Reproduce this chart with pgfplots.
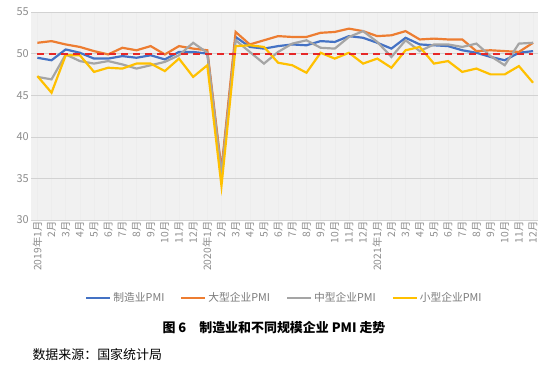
\documentclass[border=0pt]{standalone}
\usepackage{fontspec}
\setmainfont{Noto Sans CJK SC}
\usepackage{pgfplots}
\usepackage{pgfplotstable}
\pgfplotsset{compat=1.18}
\definecolor{cblue}{HTML}{4472C4}
\definecolor{corange}{HTML}{ED7D31}
\definecolor{cgray}{HTML}{A5A5A5}
\definecolor{cgold}{HTML}{FFC000}
\definecolor{cred}{RGB}{230,40,40}
\definecolor{ticktext}{HTML}{8C8C8C}
\definecolor{legtext}{HTML}{7A7A7A}
\definecolor{plotbg}{HTML}{F1F1F1}
\pgfplotstableread{
x mfg large medium small
0 49.5 51.3 47.2 47.3
1 49.2 51.5 46.9 45.3
2 50.5 51.1 49.9 49.8
3 50.1 50.8 49.1 49.8
4 49.4 50.3 48.8 47.8
5 49.4 49.9 49.1 48.3
6 49.7 50.7 48.7 48.2
7 49.5 50.4 48.2 48.8
8 49.8 50.9 48.6 48.8
9 49.3 49.9 49.0 47.9
10 50.2 50.9 49.8 49.4
11 50.2 50.6 51.3 47.2
12 50.0 50.4 50.1 48.6
13 35.7 36.1 35.5 34.1
14 52.0 52.6 51.6 50.9
15 50.8 51.1 50.2 51.0
16 50.6 51.6 48.8 50.8
17 50.9 52.1 50.2 48.9
18 51.1 52.0 51.2 48.6
19 51.0 52.0 51.6 47.7
20 51.5 52.5 50.7 50.1
21 51.4 52.6 50.6 49.4
22 52.1 53.0 52.0 50.1
23 51.9 52.7 52.7 48.8
24 51.3 52.1 51.4 49.4
25 50.6 52.2 49.6 48.3
26 51.9 52.7 51.6 50.4
27 51.1 51.7 50.3 50.8
28 51.0 51.8 51.1 48.8
29 50.9 51.7 51.1 49.1
30 50.4 51.7 50.8 47.8
31 50.1 50.3 51.2 48.2
32 49.6 50.4 49.7 47.5
33 49.2 50.3 48.6 47.5
34 50.1 50.2 51.2 48.5
35 50.3 51.3 51.3 46.5
}\pmidata
\begin{document}
\begin{tikzpicture}
\path (0,0) rectangle (548bp,377bp);
\begin{axis}[
  at={(31bp,157bp)}, anchor=south west,
  scale only axis, width=507bp, height=208bp,
  xmin=-0.45, xmax=35.35, ymin=30, ymax=55,
  ytick={30,35,...,55},
  xtick={0,...,35},
  xticklabels={2019年1月,2月,3月,4月,5月,6月,7月,8月,9月,10月,11月,12月,2020年1月,2月,3月,4月,5月,6月,7月,8月,9月,10月,11月,12月,2021年1月,2月,3月,4月,5月,6月,7月,8月,9月,10月,11月,12月},
  x tick label style={rotate=90, anchor=east, font=\fontsize{10.3}{10.3}\selectfont, text=ticktext, inner sep=1.5bp},
  y tick label style={font=\fontsize{11}{11}\selectfont, text=ticktext, inner sep=2bp},
  /pgf/number format/assume math mode=true,
  tick style={draw=none},
  ymajorgrids, xmajorgrids,
  y grid style={gray!35},
  x grid style={gray!14},
  axis line style={draw=none},
  axis background/.style={fill=plotbg},
  legend columns=4,
  legend style={at={(0.5,-0.375)}, anchor=center, draw=none, fill=none,
    font=\fontsize{10.8}{10.8}\selectfont, text=legtext,
    /tikz/every even column/.append style={column sep=14bp}},
  legend image code/.code={\draw[#1, line width=2pt] (0bp,0bp) -- (24bp,0bp);},
]
\addplot[cblue, line width=2.2pt] table[x=x, y=mfg] {\pmidata};
\addlegendentry{制造业PMI}
\addplot[corange, line width=2.2pt] table[x=x, y=large] {\pmidata};
\addlegendentry{大型企业PMI}
\addplot[cgray, line width=2.2pt] table[x=x, y=medium] {\pmidata};
\addlegendentry{中型企业PMI}
\addplot[cgold, line width=2.2pt] table[x=x, y=small] {\pmidata};
\addlegendentry{小型企业PMI}
\addplot[draw=cred, color=cred, line width=2pt, dash pattern=on 7bp off 5bp, forget plot] coordinates {(0,50) (35,50)};
\end{axis}
\node[font=\bfseries\fontsize{13}{13}\selectfont] at (274bp,49bp) {图 6\hspace{1em}制造业和不同规模企业 PMI 走势};
\node[anchor=west, font=\fontsize{13}{13}\selectfont] at (29bp,22bp) {数据来源：国家统计局};
\end{tikzpicture}
\end{document}
